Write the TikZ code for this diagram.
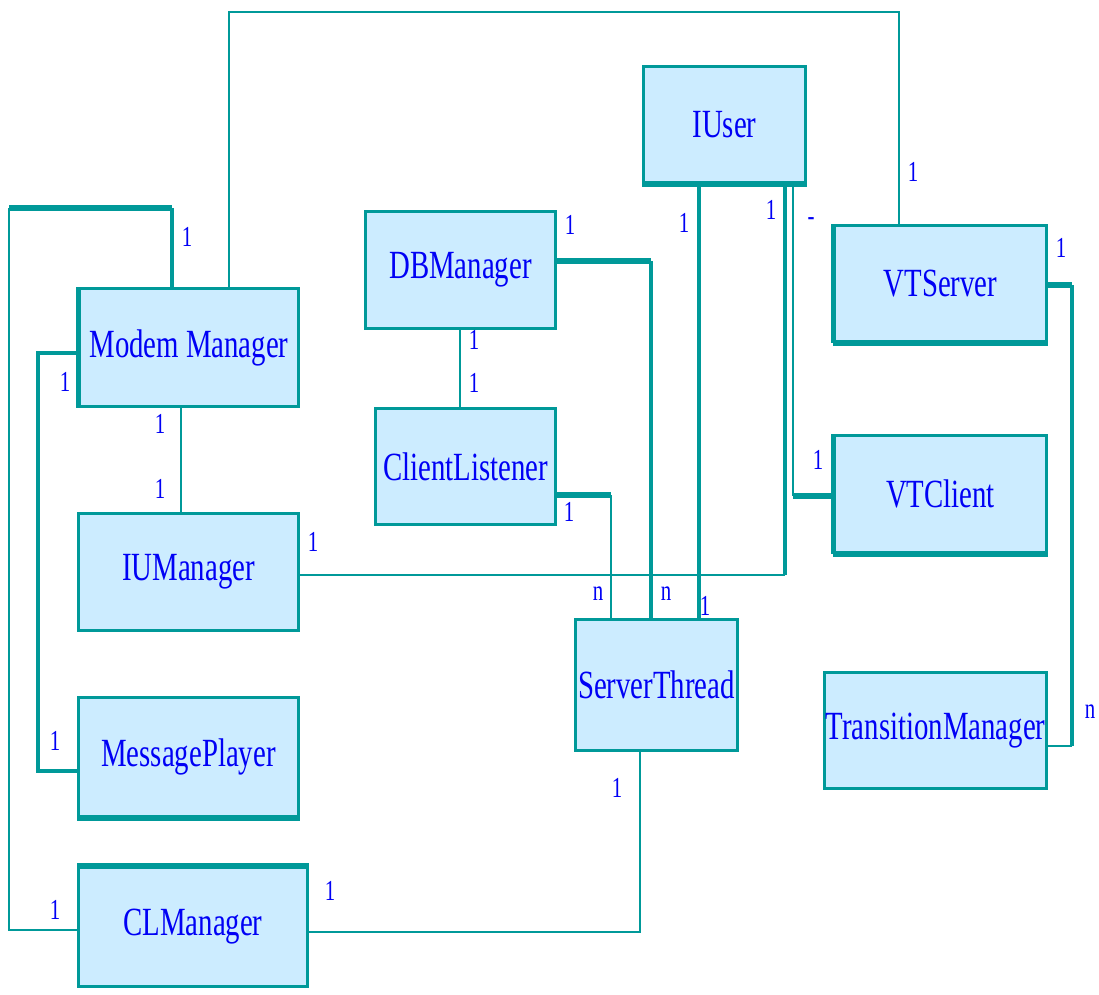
\documentclass[tikz,border=0pt]{standalone}
\usepackage{fontspec}
\newfontfamily\clsfont[FakeStretch=0.72]{Liberation Serif}
\definecolor{edgeteal}{RGB}{0,153,153}
\definecolor{boxfill}{RGB}{204,236,255}
\definecolor{txtblue}{RGB}{0,0,245}
\begin{document}
\begin{tikzpicture}[x=1pt,y=-1pt,
  cls/.style={draw=edgeteal, fill=boxfill, line width=3pt, anchor=north west,
    inner sep=0pt, text=txtblue, font=\clsfont\fontsize{40}{40}\selectfont},
  mult/.style={text=txtblue, inner sep=0pt, font=\clsfont\fontsize{29}{29}\selectfont},
  conn/.style={draw=edgeteal, line width=2.6pt},
  connmid/.style={draw=edgeteal, line width=3.6pt},
  connthick/.style={draw=edgeteal, line width=6pt},
  sideline/.style={draw=edgeteal, line width=#1, line cap=square}]
\useasboundingbox (0,0) rectangle (1099,994);

% classes
\node[cls, minimum width=162pt, minimum height=116pt] (iu)  at (642,65)  {IUser};
\node[cls, minimum width=190pt, minimum height=117pt] (db)  at (364,210) {DBManager};
\node[cls, minimum width=219pt, minimum height=118pt] (mm)  at (78,287)  {Modem Manager};
\node[cls, minimum width=212pt, minimum height=116pt] (vts) at (833,224) {VTServer};
\node[cls, minimum width=180pt, minimum height=116pt] (cl)  at (374,407) {ClientListener};
\node[cls, minimum width=212pt, minimum height=117pt] (vtc) at (833,434) {VTClient};
\node[cls, minimum width=220pt, minimum height=117pt] (ium) at (77,512)  {IUManager};
\node[cls, minimum width=162pt, minimum height=131pt] (st)  at (574,618) {ServerThread};
\node[cls, minimum width=222pt, minimum height=116pt] (tm)  at (823,671) {TransitionManager};
\node[cls, minimum width=220pt, minimum height=119pt] (mp)  at (77,696)  {MessagePlayer};
\node[cls, minimum width=229pt, minimum height=119pt] (clm) at (77,866)  {CLManager};

% heavier box sides
\draw[sideline=4.5pt] (mm.north west) -- (mm.south west);
\draw[sideline=6pt] (iu.south west) -- (iu.south east);
\draw[sideline=6pt] (vts.south west) -- (vts.south east);
\draw[sideline=4.5pt] (vts.north west) -- (vts.south west);
\draw[sideline=6pt] (vtc.south west) -- (vtc.south east);
\draw[sideline=5pt] (vtc.north west) -- (vtc.south west);
\draw[sideline=6pt] (mp.south west) -- (mp.south east);
\draw[sideline=6pt] (clm.north west) -- (clm.north east);

% bend points
\coordinate (t1) at (229,12);   \coordinate (t2) at (899,12);
\coordinate (a1) at (172,208);  \coordinate (a2) at (9,208);  \coordinate (a3) at (9,930);
\coordinate (b1) at (38,353);   \coordinate (b2) at (38,771);
\coordinate (c1) at (181,0);
\coordinate (d1) at (460,0);
\coordinate (e1) at (651,261);
\coordinate (f1) at (611,495);
\coordinate (g1) at (699,0);
\coordinate (h1) at (785,575);
\coordinate (i1) at (793,496);
\coordinate (j1) at (1072,285); \coordinate (j2) at (1072,746);
\coordinate (k1) at (640,932);

% associations
\draw[conn] (t1 |- mm.north) -- (t1) -- (t2) -- (t2 |- vts.north);
\draw[connthick] (a1) -- (a2);
\draw[connmid] (a1 |- mm.north) -- (a1);
\draw[conn] (a2) -- (a3) -- (a3 -| clm.west);
\draw[connmid] (b1 -| mm.west) -- (b1) -- (b2) -- (b2 -| mp.west);
\draw[conn] (c1 |- mm.south) -- (c1 |- ium.north);
\draw[conn] (d1 |- db.south) -- (d1 |- cl.north);
\draw[connthick] (e1 -| db.east) -- (e1);
\draw[connmid] (e1) -- (e1 |- st.north);
\draw[connthick] (f1 -| cl.east) -- (f1);
\draw[conn] (f1) -- (f1 |- st.north);
\draw[connmid] (g1 |- iu.south) -- (g1 |- st.north);
\draw[connmid] (h1 |- iu.south) -- (h1);
\draw[conn] (h1) -- (h1 -| ium.east);
\draw[conn] (i1 |- iu.south) -- (i1);
\draw[connthick] (i1) -- (i1 -| vtc.west);
\draw[connthick] (j1 -| vts.east) -- (j1);
\draw[connmid] (j1) -- (j2);
\draw[conn] (j2) -- (j2 -| tm.east);
\draw[conn] (k1 |- st.south) -- (k1) -- (k1 -| clm.east);

% multiplicities
\node[mult] (m1)  at (913,172)  {1};
\node[mult] (m2)  at (187,237)  {1};
\node[mult] (m3)  at (65,382)   {1};
\node[mult] (m4)  at (160,424)  {1};
\node[mult] (m5)  at (160,489)  {1};
\node[mult] (m6)  at (313,542)  {1};
\node[mult] (m7)  at (55,741)   {1};
\node[mult] (m8)  at (55,910)   {1};
\node[mult] (m9)  at (570,225)  {1};
\node[mult] (m10) at (474,340)  {1};
\node[mult] (m11) at (474,383)  {1};
\node[mult] (m12) at (569,512)  {1};
\node[mult] (m13) at (684,223)  {1};
\node[mult] (m14) at (771,210)  {1};
\node[mult] (m15) at (811,222)  {-};
\node[mult] (m16) at (1061,248) {1};
\node[mult] (m17) at (818,460)  {1};
\node[mult] (m18) at (1090,712) {n};
\node[mult] (m19) at (598,594)  {n};
\node[mult] (m20) at (666,594)  {n};
\node[mult] (m21) at (705,606)  {1};
\node[mult] (m22) at (617,788)  {1};
\node[mult] (m23) at (330,891)  {1};
\end{tikzpicture}
\end{document}
